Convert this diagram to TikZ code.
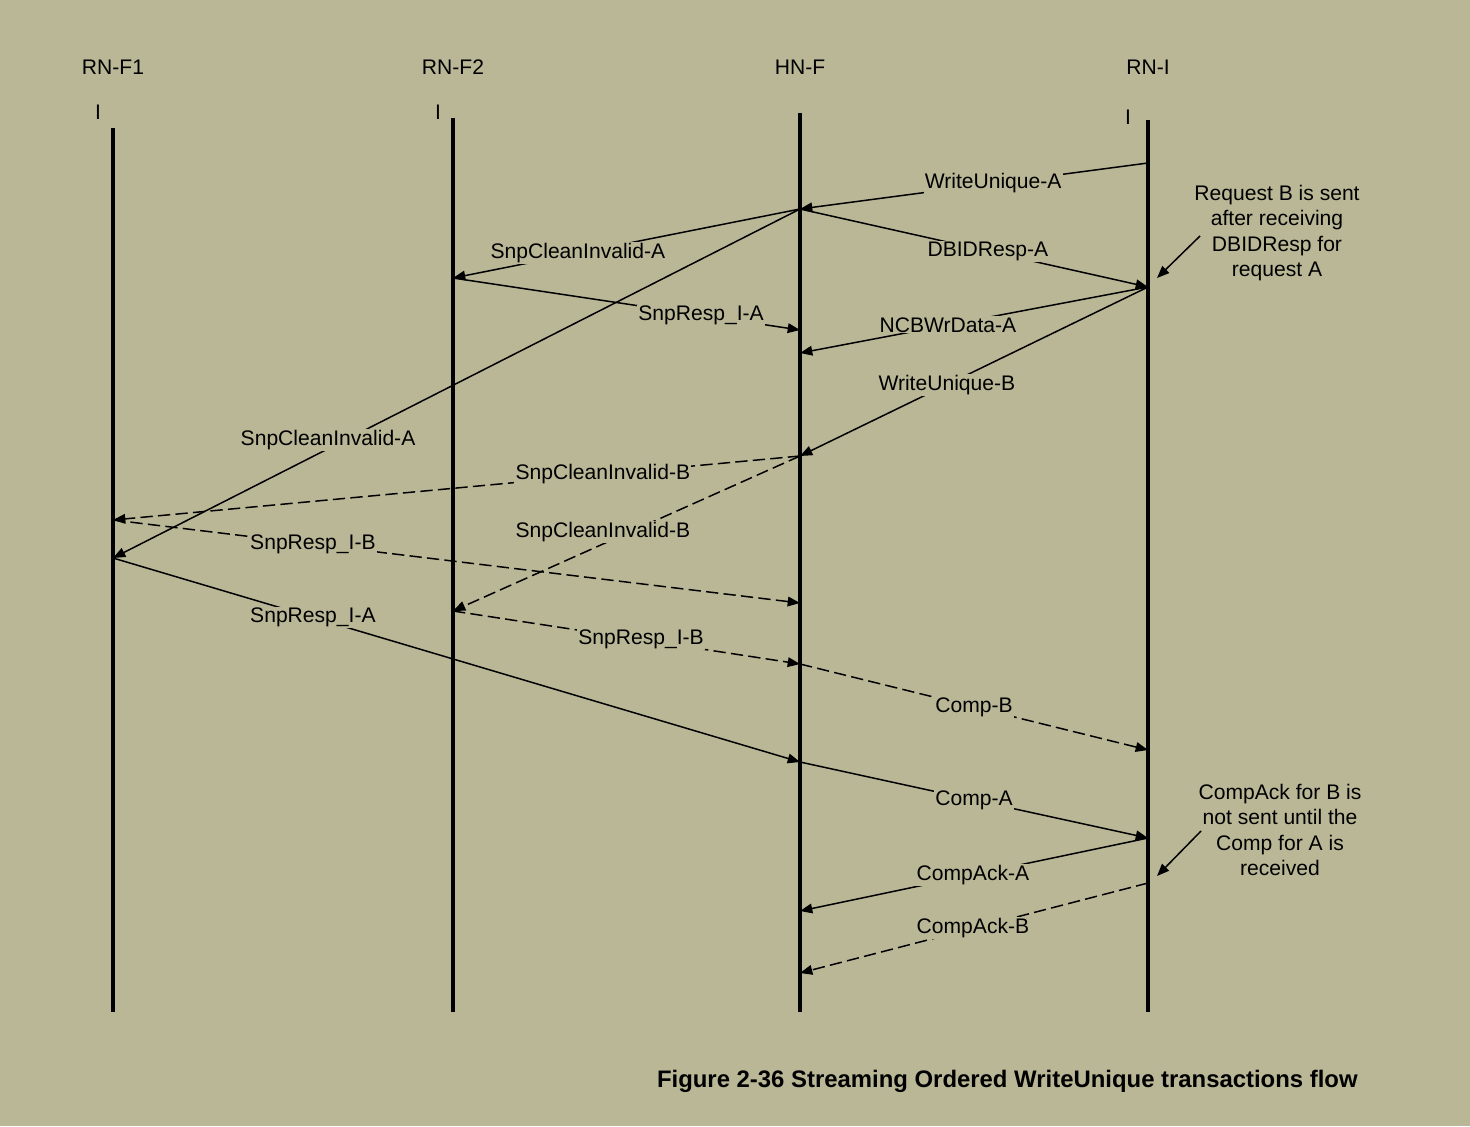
\documentclass[tikz,border=0pt]{standalone}
\usepackage{fontspec}
\setmainfont{Liberation Sans}
\usetikzlibrary{arrows.meta, positioning}
\definecolor{bg}{RGB}{185,183,150}

\begin{document}
\begin{tikzpicture}[
  x=0.02cm, y=-0.02cm,
  life/.style={line width=2.1pt},
  msg/.style={-{Triangle[length=7pt, width=5.5pt]}, line width=0.85pt},
  msgd/.style={msg, dash pattern=on 7pt off 3pt},
  lbl/.style={fill=bg, inner sep=0.6pt, font=\fontsize{12}{14}\selectfont},
  hd/.style={font=\fontsize{12}{14}\selectfont},
  note/.style={align=center, inner sep=0pt, font=\fontsize{12}{14.5}\selectfont}]
  \fill[bg] (0,0) rectangle (1470,1126);
  \useasboundingbox (0,0) rectangle (1470,1126);
  % heads and lifelines
  \node[hd] (f1) at (113,67)  {RN-F1};
  \node[hd] (f2) at (453,67)  {RN-F2};
  \node[hd] (hn) at (800,67)  {HN-F};
  \node[hd] (ri) at (1148,67) {RN-I};
  \node[hd] (f1i) at (98,112)   {I};
  \node[hd] (f2i) at (438,112)  {I};
  \node[hd] (rii) at (1128,117) {I};
  \coordinate (f1t) at (113,128);  \coordinate (f1b) at (113,1012);
  \coordinate (f2t) at (453,118);  \coordinate (f2b) at (453,1012);
  \coordinate (hnt) at (800,113);  \coordinate (hnb) at (800,1012);
  \coordinate (rit) at (1148,120); \coordinate (rib) at (1148,1012);
  \draw[life] (f1t) -- (f1b);
  \draw[life] (f2t) -- (f2b);
  \draw[life] (hnt) -- (hnb);
  \draw[life] (rit) -- (rib);
  % points on the lifelines
  \coordinate (ri1) at (1148,163); \coordinate (ri2) at (1148,287);
  \coordinate (ri3) at (1148,750); \coordinate (ri4) at (1148,838);
  \coordinate (ri5) at (1148,883);
  \coordinate (hn1) at (800,209);  \coordinate (hn2) at (800,330);
  \coordinate (hn3) at (800,353);  \coordinate (hn4) at (800,456);
  \coordinate (hn5) at (800,603);  \coordinate (hn6) at (800,664);
  \coordinate (hn7) at (800,762);  \coordinate (hn8) at (800,911);
  \coordinate (hn9) at (800,973);
  \coordinate (f21) at (453,278);  \coordinate (f22) at (453,611);
  \coordinate (f11) at (113,520);  \coordinate (f12) at (113,558);
  % messages
  \draw[msg] (ri1) -- node[lbl, pos=0.445] {WriteUnique-A} (hn1);
  \draw[msg] (hn1) -- node[lbl, pos=0.64] {SnpCleanInvalid-A} (f21);
  \draw[msg] (hn1) -- node[lbl, pos=0.54] {DBIDResp-A} (ri2);
  \draw[msg] (hn1) -- node[lbl, pos=0.687, yshift=0.18cm] {SnpCleanInvalid-A} (f12);
  \draw[msg] (f21) -- node[lbl, pos=0.715] {SnpResp\_I-A} (hn2);
  \draw[msg] (ri2) -- node[lbl, pos=0.575] {NCBWrData-A} (hn3);
  \draw[msg] (ri2) -- node[lbl, pos=0.578] {WriteUnique-B} (hn4);
  \draw[msgd] (hn4) -- node[lbl, pos=0.287] {SnpCleanInvalid-B} (f11);
  \draw[msgd] (hn4) -- node[lbl, pos=0.568, yshift=0.24cm] {SnpCleanInvalid-B} (f22);
  \draw[msgd] (f11) -- node[lbl, pos=0.291] {SnpResp\_I-B} (hn5);
  \draw[msg] (f12) -- node[lbl, pos=0.291] {SnpResp\_I-A} (hn7);
  \draw[msgd] (f22) -- node[lbl, pos=0.542] {SnpResp\_I-B} (hn6);
  \draw[msgd] (hn6) -- node[lbl, pos=0.5] {Comp-B} (ri3);
  \draw[msg] (hn7) -- node[lbl, pos=0.5] {Comp-A} (ri4);
  \draw[msg] (ri4) -- node[lbl, pos=0.503] {CompAck-A} (hn8);
  \draw[msgd] (ri5) -- node[lbl, pos=0.503] {CompAck-B} (hn9);
  % notes
  \node[note] (n1) at (1277,233) {Request B is sent\\after receiving\\DBIDResp for\\request A};
  \node[note] (n2) at (1280,830) {CompAck for B is\\not sent until the\\Comp for A is\\received};
  \coordinate (n1s) at (1200,236); \coordinate (n1e) at (1157,278);
  \coordinate (n2s) at (1201,831); \coordinate (n2e) at (1157,876);
  \draw[msg] (n1s) -- (n1e);
  \draw[msg] (n2s) -- (n2e);
  \node[anchor=east, inner sep=0pt, font=\fontsize{13.6}{16}\selectfont\bfseries] (cap) at (1358,1081)
    {Figure 2-36 Streaming Ordered WriteUnique transactions flow};
\end{tikzpicture}
\end{document}
